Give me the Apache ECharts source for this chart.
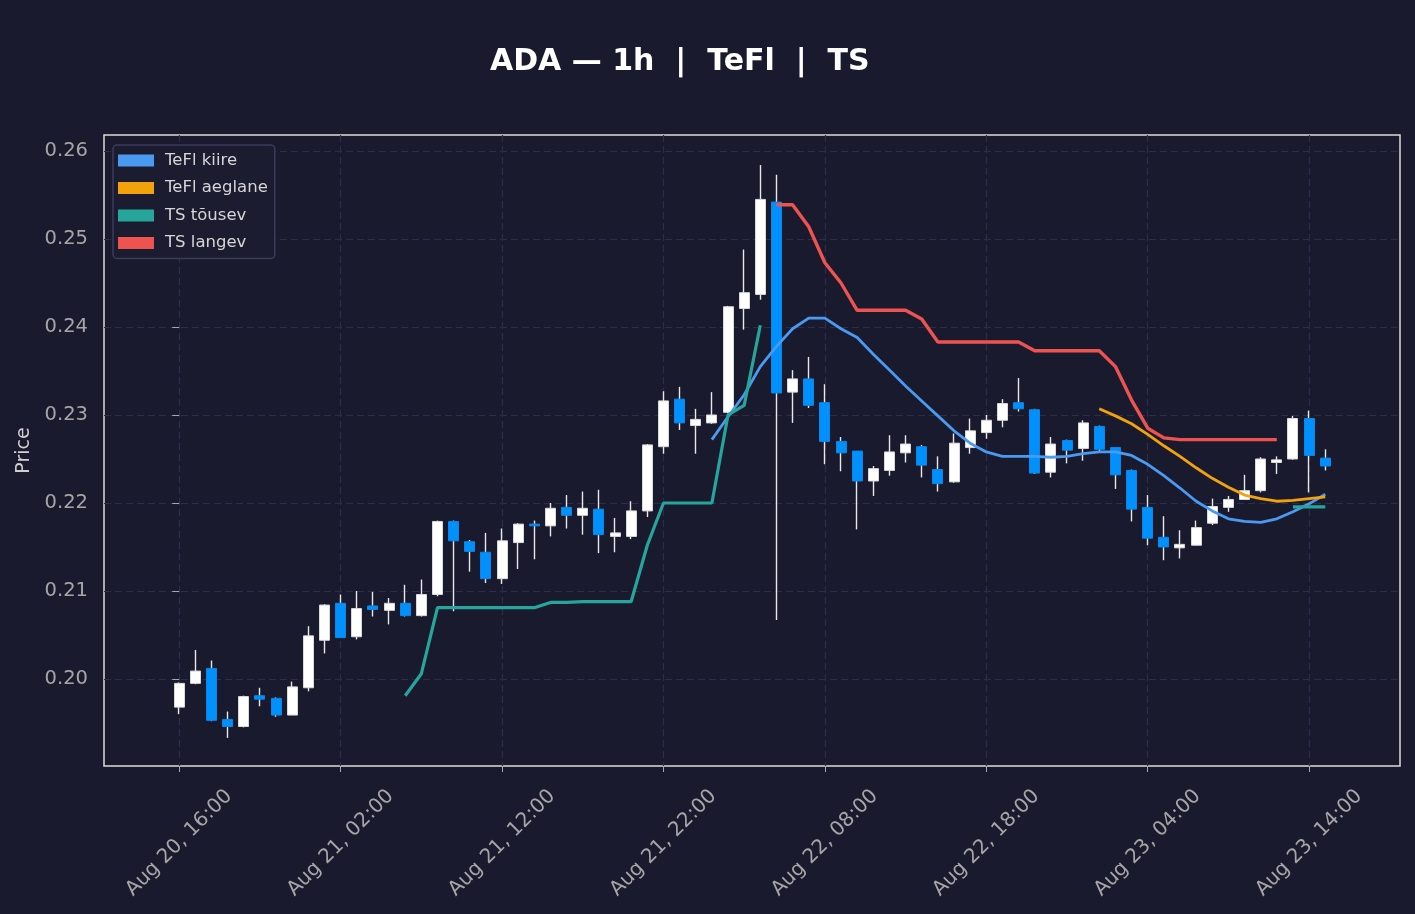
<!DOCTYPE html>
<html>
<head>
<meta charset="utf-8">
<title>ADA 1h TeFl TS</title>
<script src="https://cdn.jsdelivr.net/npm/echarts@6/dist/echarts.min.js"></script>
<style>
  html, body { margin: 0; padding: 0; background: #1a1a2e; }
  #chart { width: 1415px; height: 914px; }
</style>
</head>
<body>
<div id="chart"></div>
<script>
// ---- DATA (hourly candles, Aug 20 16:00 -> Aug 23 15:00) ----
const opens = [
  0.1968, 0.1995, 0.2012, 0.1954, 0.1946, 0.1981, 0.1978, 0.1959, 0.1990, 0.2044,
  0.2086, 0.2048, 0.2083, 0.2078, 0.2086, 0.2072, 0.2096, 0.2179, 0.2156, 0.2144,
  0.2114, 0.2155, 0.2176, 0.2174, 0.2195, 0.2186, 0.2193, 0.2162, 0.2162, 0.2191,
  0.2264, 0.2318, 0.2288, 0.2291, 0.2303, 0.2421, 0.2437, 0.2542, 0.2326, 0.2341,
  0.2314, 0.2270, 0.2259, 0.2225, 0.2237, 0.2257, 0.2264, 0.2238, 0.2224, 0.2263,
  0.2280, 0.2294, 0.2314, 0.2306, 0.2235, 0.2271, 0.2262, 0.2287, 0.2263, 0.2237,
  0.2195, 0.2161, 0.2149, 0.2152, 0.2177, 0.2195, 0.2204, 0.2214, 0.2246, 0.2250,
  0.2296, 0.2251
];
const closes = [
  0.1995, 0.2009, 0.1953, 0.1946, 0.1980, 0.1977, 0.1959, 0.1991, 0.2049, 0.2084,
  0.2047, 0.2080, 0.2079, 0.2086, 0.2072, 0.2096, 0.2179, 0.2157, 0.2145, 0.2114,
  0.2157, 0.2176, 0.2174, 0.2194, 0.2186, 0.2194, 0.2164, 0.2166, 0.2191, 0.2266,
  0.2316, 0.2291, 0.2295, 0.2300, 0.2423, 0.2439, 0.2545, 0.2325, 0.2341, 0.2311,
  0.2270, 0.2257, 0.2225, 0.2239, 0.2258, 0.2267, 0.2243, 0.2222, 0.2268, 0.2282,
  0.2294, 0.2313, 0.2307, 0.2234, 0.2267, 0.2260, 0.2291, 0.2261, 0.2232, 0.2193,
  0.2160, 0.2150, 0.2153, 0.2172, 0.2196, 0.2204, 0.2214, 0.2250, 0.2249, 0.2296,
  0.2254, 0.2242
];
const lows = [
  0.1960, 0.1994, 0.1952, 0.1933, 0.1945, 0.1969, 0.1957, 0.1959, 0.1986, 0.2029,
  0.2047, 0.2045, 0.2071, 0.2062, 0.2071, 0.2071, 0.2094, 0.2077, 0.2122, 0.2109,
  0.2108, 0.2125, 0.2136, 0.2162, 0.2171, 0.2164, 0.2143, 0.2144, 0.2159, 0.2184,
  0.2256, 0.2283, 0.2256, 0.2290, 0.2302, 0.2397, 0.2431, 0.2067, 0.2291, 0.2308,
  0.2244, 0.2236, 0.2170, 0.2208, 0.2231, 0.2246, 0.2229, 0.2213, 0.2223, 0.2256,
  0.2273, 0.2286, 0.2304, 0.2233, 0.2229, 0.2245, 0.2248, 0.2258, 0.2216, 0.2179,
  0.2152, 0.2135, 0.2137, 0.2152, 0.2175, 0.2190, 0.2204, 0.2212, 0.2233, 0.2249,
  0.2212, 0.2237
];
const highs = [
  0.1996, 0.2033, 0.2021, 0.1963, 0.1981, 0.1990, 0.1979, 0.1997, 0.2060, 0.2085,
  0.2096, 0.2100, 0.2099, 0.2092, 0.2107, 0.2113, 0.2180, 0.2180, 0.2158, 0.2166,
  0.2171, 0.2177, 0.2180, 0.2200, 0.2209, 0.2213, 0.2215, 0.2183, 0.2202, 0.2267,
  0.2327, 0.2332, 0.2307, 0.2326, 0.2424, 0.2488, 0.2584, 0.2573, 0.2351, 0.2366,
  0.2335, 0.2275, 0.2259, 0.2242, 0.2277, 0.2277, 0.2266, 0.2253, 0.2279, 0.2296,
  0.2300, 0.2318, 0.2342, 0.2307, 0.2275, 0.2272, 0.2294, 0.2288, 0.2263, 0.2238,
  0.2209, 0.2185, 0.2169, 0.2180, 0.2205, 0.2208, 0.2232, 0.2252, 0.2253, 0.2299,
  0.2305, 0.2261
];

// indicator lines (null = not drawn)
const n = null;
const teflFast = [
  n, n, n, n, n, n, n, n, n, n, n, n, n, n, n, n, n, n, n, n,
  n, n, n, n, n, n, n, n, n, n, n, n, n,
  0.2272, 0.2298, 0.2323, 0.2355, 0.2378, 0.2398, 0.2410, 0.2410, 0.2398, 0.2388,
  0.2369, 0.2351, 0.2333, 0.2316, 0.2299, 0.2282, 0.2268, 0.2258, 0.2253, 0.2253,
  0.2253, 0.2252, 0.2253, 0.2256, 0.2258, 0.2258, 0.2254, 0.2244, 0.2231, 0.2217,
  0.2202, 0.2191, 0.2182, 0.2179, 0.2178, 0.2182, 0.2190, 0.2199, 0.2210
];
const teflSlow = [
  n, n, n, n, n, n, n, n, n, n, n, n, n, n, n, n, n, n, n, n,
  n, n, n, n, n, n, n, n, n, n, n, n, n, n, n, n, n, n, n, n,
  n, n, n, n, n, n, n, n, n, n, n, n, n, n, n, n, n,
  0.2307, 0.2299, 0.2290, 0.2278, 0.2265, 0.2253, 0.2240, 0.2228, 0.2218, 0.2209,
  0.2205, 0.2202, 0.2203, 0.2205, 0.2207
];
const tsUp = [
  n, n, n, n, n, n, n, n, n, n, n, n, n, n,
  0.1981, 0.2006, 0.2081, 0.2081, 0.2081, 0.2081, 0.2081, 0.2081, 0.2081, 0.2087,
  0.2087, 0.2088, 0.2088, 0.2088, 0.2088, 0.2152, 0.2200, 0.2200, 0.2200, 0.2200,
  0.2300, 0.2311, 0.2402,
  n, n, n, n, n, n, n, n, n, n, n, n, n, n, n, n, n, n, n, n,
  n, n, n, n, n, n, n, n, n, n, n, n,
  0.21955, 0.21955, 0.21955
];
const tsDown = [
  n, n, n, n, n, n, n, n, n, n, n, n, n, n, n, n, n, n, n, n,
  n, n, n, n, n, n, n, n, n, n, n, n, n, n, n, n, n,
  0.2539, 0.2539, 0.2514, 0.2473, 0.2450, 0.2419, 0.2419, 0.2419, 0.2419, 0.2409,
  0.2383, 0.2383, 0.2383, 0.2383, 0.2383, 0.2383, 0.2373, 0.2373, 0.2373, 0.2373,
  0.2373, 0.2355, 0.2317, 0.2285, 0.2274, 0.2272, 0.2272, 0.2272, 0.2272, 0.2272,
  0.2272, 0.2272,
  n, n, n
];

// x ticks: hour index from first candle -> label
const xTickHours = [0, 10, 20, 30, 40, 50, 60, 70];
const xTickLabels = [
  'Aug 20, 16:00', 'Aug 21, 02:00', 'Aug 21, 12:00', 'Aug 21, 22:00',
  'Aug 22, 08:00', 'Aug 22, 18:00', 'Aug 23, 04:00', 'Aug 23, 14:00'
];
const yTicks = [0.20, 0.21, 0.22, 0.23, 0.24, 0.25, 0.26];

// ---- BUILD SERIES DATA ----
const wickData = opens.map((o, i) => [i, o, closes[i], lows[i], highs[i]]);
const bodyData = opens.map((o, i) => [i, o, closes[i], Math.min(o, closes[i]), Math.max(o, closes[i])]);
const toXY = arr => arr.map((v, i) => [i, v === null ? '-' : v]);

const TEXT_FONT = 'DejaVu Sans';

function lineSeries(name, arr, color, width) {
  return {
    name, type: 'line', data: toXY(arr),
    showSymbol: false, symbol: 'none', connectNulls: false,
    lineStyle: { color, width },
    itemStyle: { color },
    z: 5
  };
}

const chart = echarts.init(document.getElementById('chart'), null, { renderer: 'canvas' });
chart.setOption({
  backgroundColor: '#1a1a2e',
  animation: false,
  title: {
    text: 'ADA \u2014 1h  |  TeFl  |  TS',
    left: 485, top: 42,
    textStyle: { color: '#ffffff', fontSize: 30, fontWeight: 'bold', fontFamily: TEXT_FONT }
  },
  legend: {
    data: ['TeFl kiire', 'TeFl aeglane', 'TS t\u00f5usev', 'TS langev'],
    orient: 'vertical',
    left: 113, top: 145,
    padding: [7, 7, 7, 5],
    itemWidth: 36, itemHeight: 12, itemGap: 10.5,
    icon: 'rect',
    backgroundColor: '#1c1c31',
    borderColor: '#3b3b5c', borderWidth: 1.5, borderRadius: 4,
    textStyle: { color: '#d6d6d6', fontSize: 16.5, fontFamily: TEXT_FONT, padding: [0, 0, 0, 6] }
  },
  grid: {
    left: 104, right: 15, top: 135, bottom: 148,
    show: true, borderColor: '#dcdcdc', borderWidth: 1.5, backgroundColor: 'transparent'
  },
  xAxis: {
    type: 'value', min: -4.66, max: 75.63,
    axisLine: { show: false },
    axisTick: { show: true, length: 6, lineStyle: { color: '#a8a8a8' }, customValues: xTickHours },
    axisLabel: {
      customValues: xTickHours,
      formatter: v => xTickLabels[xTickHours.indexOf(Math.round(v))] || '',
      rotate: 45, align: 'center', verticalAlign: 'middle', margin: 77,
      color: '#a6a6a6', fontSize: 20, fontFamily: TEXT_FONT
    },
    splitLine: { show: true, lineStyle: { color: '#2c2c4c', type: [7, 4], width: 1.2 } }
  },
  yAxis: {
    type: 'value', min: 0.19011, max: 0.26182, scale: true,
    name: 'Price', nameLocation: 'middle', nameGap: 68, nameRotate: 90,
    nameTextStyle: { color: '#cfcfcf', fontSize: 19, fontFamily: TEXT_FONT },
    axisLine: { show: false },
    axisTick: { show: true, length: 7, lineStyle: { color: '#a8a8a8' }, customValues: yTicks },
    axisLabel: {
      customValues: yTicks,
      formatter: v => v.toFixed(2),
      margin: 16, color: '#a6a6a6', fontSize: 19.5, fontFamily: TEXT_FONT
    },
    splitLine: { show: true, lineStyle: { color: '#2c2c4c', type: [7, 4], width: 1.2 } }
  },
  series: [
    {
      name: 'wick', type: 'candlestick', data: wickData,
      encode: { x: 0, y: [1, 2, 3, 4] },
      barWidth: 0.2,
      itemStyle: { color: '#e8e8e8', color0: '#e8e8e8', borderColor: '#e8e8e8', borderColor0: '#e8e8e8', borderWidth: 1.4 },
      z: 2
    },
    {
      name: 'body', type: 'candlestick', data: bodyData,
      encode: { x: 0, y: [1, 2, 3, 4] },
      barWidth: 10.5,
      itemStyle: { color: '#ffffff', color0: '#0091ff', borderColor: '#d9d9d9', borderColor0: '#0a86ea', borderWidth: 1 },
      z: 3
    },
    lineSeries('TeFl kiire', teflFast, '#4a9af2', 2.8),
    lineSeries('TeFl aeglane', teflSlow, '#f2a30b', 2.8),
    lineSeries('TS t\u00f5usev', tsUp, '#26a69a', 3.2),
    lineSeries('TS langev', tsDown, '#ef5350', 3.4)
  ]
});
</script>
</body>
</html>
